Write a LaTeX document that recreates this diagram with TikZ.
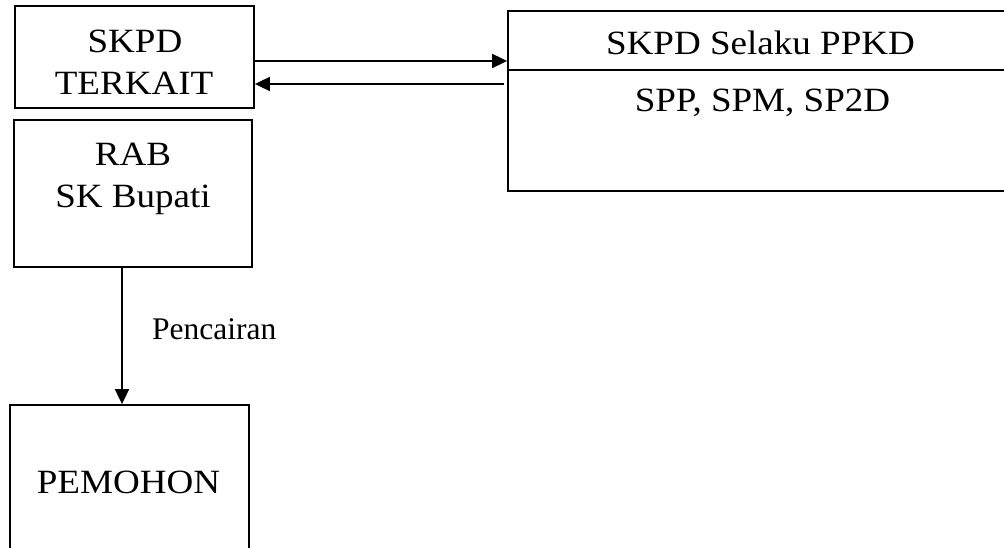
\documentclass[tikz,border=0pt]{standalone}
\usepackage{fontspec}
\setmainfont{Liberation Serif}
\newfontfamily\boxfont{Liberation Serif}[FakeStretch=1.09]
\usetikzlibrary{arrows.meta,calc}
\tikzset{
  box/.style={draw=black, line width=1.8pt, rectangle, inner sep=0pt},
  lbl/.style={font=\boxfont\fontsize{34}{42}\selectfont, anchor=base, inner sep=0pt},
  small/.style={font=\fontsize{31.5}{38}\selectfont, anchor=base west, inner sep=0pt},
  arr/.style={line width=1.8pt, -{Triangle[length=15pt,width=14pt]}},
}
\begin{document}
\begin{tikzpicture}[x=1pt,y=-1pt]
\clip (0,0) rectangle (1004,548);
\fill[white] (0,0) rectangle (1004,548);
% boxes
\node[box, minimum width=239pt, minimum height=102pt] (skpd) at (134.5,57) {};
\node[box, minimum width=238pt, minimum height=147pt] (rab) at (133,193.5) {};
\node[box, minimum width=506pt, minimum height=180pt] (ppkd) at (761,100.8) {};
\node[box, minimum width=239pt, minimum height=160pt] (pem) at (129.5,485) {};
\coordinate (div) at (508,70);
\draw[line width=1.8pt] (div) -- (ppkd.east |- div);
% texts
\node[lbl] (t1) at (135,53) {SKPD};
\node[lbl] (t2) at (134,95) {TERKAIT};
\node[lbl] (t3) at (133,166) {RAB};
\node[lbl] (t4) at (133,208) {SK Bupati};
\node[lbl] (t5) at (760.5,55) {SKPD Selaku PPKD};
\node[lbl] (t6) at (762.5,112) {SPP, SPM, SP2D};
\node[lbl] (t7) at (128.5,493) {PEMOHON};
\node[small] (t8) at (152,339) {Pencairan};
% connectors
\coordinate (ya) at (0,61);
\coordinate (yb) at (0,84);
\coordinate (xc) at (122,0);
\draw[arr] (skpd.east |- ya) -- (ppkd.west |- ya);
\draw[arr] ($(ppkd.west |- yb)+(-3,0)$) -- (skpd.east |- yb);
\draw[arr] (rab.south -| xc) -- (pem.north -| xc);
\end{tikzpicture}
\end{document}
